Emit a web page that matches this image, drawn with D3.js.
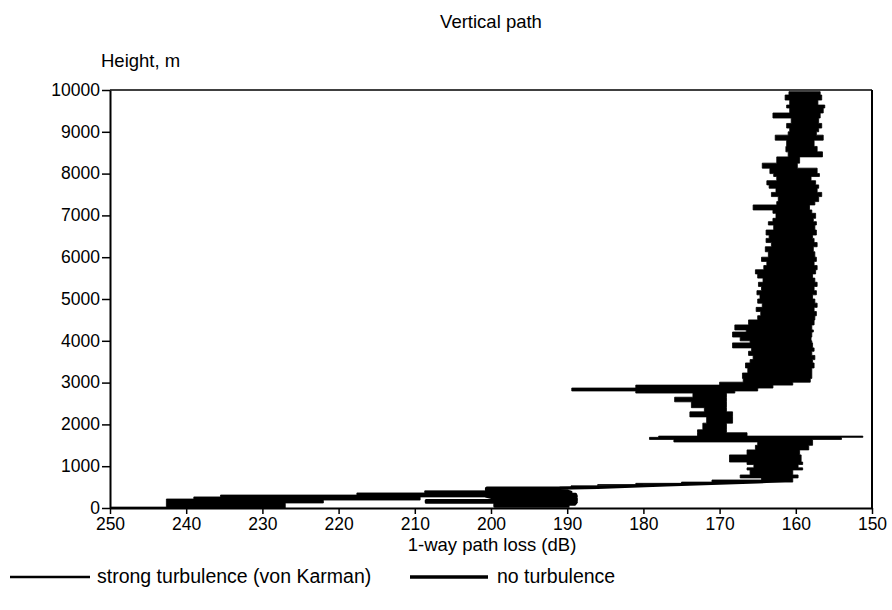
<!DOCTYPE html>
<html>
<head>
<meta charset="utf-8">
<script src="https://cdn.jsdelivr.net/npm/d3@7"></script>
<style>
  body { margin: 0; background: #fff; }
  text { font-family: "Liberation Sans", Arial, sans-serif; fill: #000; }
</style>
</head>
<body>
<svg id="chart" width="892" height="610"></svg>
<script>
// Strong turbulence (von Karman): loss envelope per height band.
// Band i covers stHeight[i] .. stHeight[i+1]; stLossHigh is the left (larger loss) edge,
// stLossLow the right (smaller loss) edge.
const stHeight = [0, 22, 120, 190, 215, 265, 310, 360, 410, 500, 530, 560, 590, 620, 670, 720, 790, 910, 960, 1040,
  1100, 1270, 1390, 1500, 1580, 1640, 1690, 1720, 1800, 1870, 2030, 2180, 2300, 2400, 2540, 2650, 2750, 2800, 2870, 2940,
  3010, 3100, 3230, 3350, 3470, 3550, 3650, 3750, 3830, 3950, 4000, 4090, 4210, 4260, 4380, 4500, 4600, 4700, 4800, 4900,
  5000, 5100, 5200, 5300, 5400, 5500, 5600, 5700, 5800, 5900, 6000, 6130, 6250, 6350, 6450, 6530, 6650, 6770, 6850, 6930,
  7050, 7130, 7250, 7330, 7450, 7550, 7650, 7730, 7830, 7930, 8000, 8130, 8250, 8400, 8520, 8650, 8800, 8920, 9000, 9090,
  9200, 9330, 9450, 9570, 9640, 9760, 9880, 9960];
const stLossHigh = [250.0, 242.6, 242.6, 242.6, 239.0, 235.5, 217.6, 208.7, 200.6, 189.5, 186.0, 181.0, 175.0, 171.0, 164.5, 167.3, 166.0, 166.4, 165.5, 166.4,
  168.7, 166.4, 165.3, 165.0, 176.0, 179.2, 178.0, 172.9, 172.9, 172.2, 171.7, 173.9, 172.0, 173.7, 175.9, 173.5, 181.0, 189.4, 181.0, 170.0,
  166.9, 167.0, 166.3, 166.6, 166.0, 165.6, 166.2, 165.8, 168.3, 166.0, 167.3, 168.3, 166.5, 168.0, 166.2, 165.0, 164.6, 165.2, 164.4, 165.0,
  164.7, 165.1, 164.5, 164.9, 164.3, 165.0, 165.3, 164.2, 163.8, 164.5, 163.6, 164.0, 163.2, 163.9, 163.5, 163.9, 162.9, 163.6, 163.0, 162.6,
  163.0, 165.6, 162.5, 162.3, 163.2, 162.6, 163.5, 163.8, 162.5, 162.9, 163.4, 164.4, 162.5, 161.0, 161.3, 161.2, 162.7, 161.0, 160.8, 161.2,
  160.6, 163.0, 160.8, 161.2, 160.8, 161.4, 160.9, 160.9];
const stLossLow = [227.0, 227.0, 222.0, 209.3, 209.3, 200.6, 200.6, 200.6, 191.0, 186.0, 180.0, 174.0, 168.0, 160.4, 160.4, 159.7, 160.4, 159.1, 159.7, 159.1,
  159.3, 159.5, 158.3, 157.8, 157.8, 154.0, 151.2, 166.4, 169.1, 169.1, 168.3, 168.3, 169.1, 169.1, 169.1, 169.1, 168.0, 165.0, 163.0, 160.4,
  158.1, 157.9, 157.9, 157.6, 157.8, 157.5, 157.9, 157.6, 157.8, 157.9, 158.0, 157.9, 157.7, 157.9, 157.6, 157.5, 157.3, 157.6, 157.2, 157.5,
  157.8, 157.3, 157.6, 157.2, 157.5, 157.8, 157.4, 157.2, 157.6, 157.3, 157.5, 157.7, 157.2, 157.6, 157.8, 157.3, 157.5, 157.3, 157.7, 157.4,
  157.9, 158.2, 157.5, 157.0, 156.6, 157.2, 157.0, 157.4, 158.0, 156.9, 157.2, 159.8, 159.5, 156.5, 157.2, 157.6, 156.4, 157.3, 157.0, 156.6,
  157.0, 156.8, 156.4, 156.2, 157.1, 156.6, 156.8, 156.8];

// No turbulence: loss along the path (height in m, loss in dB)
const ntHeight = [40, 40, 90, 90, 140, 140, 180, 180, 230, 230, 280, 280, 330, 330, 380, 380, 430, 430, 470, 470,
  490, 550, 585, 620, 665, 800, 1000, 1200, 1500, 1620, 1700, 1900, 2200, 2500, 2750, 2900, 3050, 3500, 4500, 5500,
  6500, 7500, 8300, 9000, 9950];
const ntLoss = [189.7, 199.5, 199.5, 189.0, 188.8, 208.5, 208.5, 188.8, 188.8, 199.5, 200.6, 188.8, 188.9, 200.6, 200.6, 189.5, 190.5, 200.6, 200.6, 191.0,
  186.0, 177.0, 171.0, 165.0, 160.8, 162.0, 162.5, 162.0, 161.5, 162.0, 170.0, 171.0, 171.0, 171.0, 172.0, 165.0, 162.0, 161.5, 161.0, 161.0,
  160.5, 160.0, 160.5, 159.0, 158.8];

const xTicks = [250, 240, 230, 220, 210, 200, 190, 180, 170, 160, 150];
const yTicks = [0, 1000, 2000, 3000, 4000, 5000, 6000, 7000, 8000, 9000, 10000];

const titleText = "Vertical path";
const yTitle = "Height, m";
const xTitle = "1-way path loss (dB)";
const seriesNames = ["strong turbulence (von Karman)", "no turbulence"];

const svg = d3.select("#chart");
const x = d3.scaleLinear().domain([250, 150]).range([110, 872]);
const y = d3.scaleLinear().domain([0, 10000]).range([508, 90]);

const FS = 17.5;

// clip to plot area
svg.append("defs").append("clipPath").attr("id", "plotClip")
  .append("rect").attr("x", x(250)).attr("y", y(10000))
  .attr("width", x(150) - x(250)).attr("height", y(0) - y(10000));

const plot = svg.append("g").attr("clip-path", "url(#plotClip)");

// strong turbulence envelope
const stRows = stHeight.map((h, i) => ({ h, hi: stLossHigh[i], lo: stLossLow[i] }));
const stArea = d3.area()
  .curve(d3.curveStepBefore)
  .y(d => y(d.h))
  .x0(d => x(d.hi))
  .x1(d => x(d.lo));
plot.append("path").datum(stRows)
  .attr("d", stArea)
  .attr("fill", "#000")
  .attr("stroke", "#000")
  .attr("stroke-width", 0.8);

// no turbulence line
const ntRows = ntHeight.map((h, i) => ({ h, loss: ntLoss[i] }));
plot.append("path").datum(ntRows)
  .attr("d", d3.line().x(d => x(d.loss)).y(d => y(d.h)))
  .attr("fill", "none")
  .attr("stroke", "#000")
  .attr("stroke-width", 3)
  .attr("stroke-linejoin", "round");

// frame (top and right)
svg.append("line").attr("x1", x(250)).attr("x2", x(150)).attr("y1", y(10000)).attr("y2", y(10000))
  .attr("stroke", "#000").attr("stroke-width", 1.6);
svg.append("line").attr("x1", x(150)).attr("x2", x(150)).attr("y1", y(10000)).attr("y2", y(0))
  .attr("stroke", "#000").attr("stroke-width", 2);

// axes
const gx = svg.append("g").attr("transform", `translate(0,${y(0)})`)
  .call(d3.axisBottom(x).tickValues(xTicks).tickFormat(d3.format("d"))
    .tickSizeInner(6).tickSizeOuter(0).tickPadding(4));
const gy = svg.append("g").attr("transform", `translate(${x(250)},0)`)
  .call(d3.axisLeft(y).tickValues(yTicks).tickFormat(d3.format("d"))
    .tickSizeInner(8).tickSizeOuter(0).tickPadding(2));
[gx, gy].forEach(g => {
  g.select(".domain").attr("stroke", "#000").attr("stroke-width", 2);
  g.selectAll(".tick line").attr("stroke", "#000").attr("stroke-width", 1.5);
  g.selectAll(".tick text").attr("font-family", "Liberation Sans, Arial, sans-serif")
    .attr("font-size", FS).attr("fill", "#000");
});
gy.selectAll(".tick text").attr("dy", "0.3em");

// titles
svg.append("text").attr("x", 491).attr("y", 28).attr("text-anchor", "middle")
  .attr("font-size", 18.5).text(titleText);
svg.append("text").attr("x", 101).attr("y", 67).attr("text-anchor", "start")
  .attr("font-size", 18.5).text(yTitle);
svg.append("text").attr("x", 492).attr("y", 551).attr("text-anchor", "middle")
  .attr("font-size", 18.5).text(xTitle);

// legend
const legend = [
  { name: seriesNames[0], x1: 10, x2: 90, tx: 97, w: 2.5 },
  { name: seriesNames[1], x1: 410, x2: 488, tx: 497, w: 3.5 }
];
const lg = svg.append("g");
legend.forEach(d => {
  lg.append("line").attr("x1", d.x1).attr("x2", d.x2).attr("y1", 577).attr("y2", 577)
    .attr("stroke", "#000").attr("stroke-width", d.w);
  lg.append("text").attr("x", d.tx).attr("y", 583).attr("font-size", 19.5).text(d.name);
});
</script>
</body>
</html>
